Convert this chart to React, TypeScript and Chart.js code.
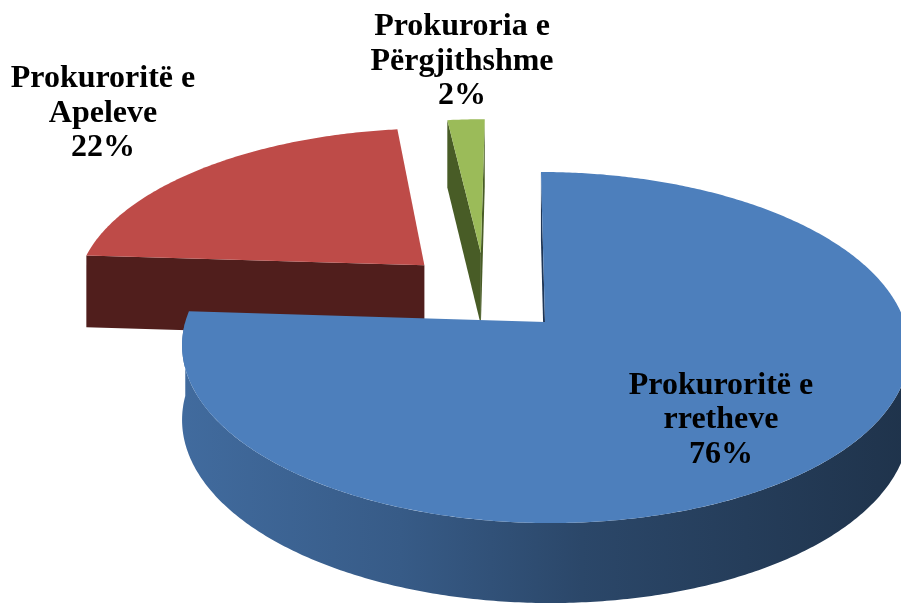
import React, { useEffect, useRef } from "react";
import { Chart, registerables } from "chart.js";

Chart.register(...registerables);

// ---- data ----
const categories = ["Prokuroritë e rretheve", "Prokuroritë e Apeleve", "Prokuroria e Përgjithshme"];
const values = [76, 22, 2];

// ---- styles ----
const topColors = ["#4D7FBC", "#BE4B48", "#9BBB59"];
const faceColors = ["#1F3656", "#501E1C", "#485C26"];
const RADIUS = 200; // chart-space radius (normalised away by the projection)
const EXPLODE = 0.246; // explosion, as a fraction of the radius
const FONT = 'bold 32px "Liberation Serif", "Times New Roman", serif';
const LINE_H = 34.5;
// label block anchors (centre x, middle-line baseline), one per slice
const LABEL_POS: [number, number][] = [
  [721, 428],
  [103, 121.5],
  [462, 69.5],
];

// perspective camera for the 3-D look
const CAM = { A: 513.2, S: 350.6, Xcam: 0.08, a: 0.1416, yc: 292, T: 163.2, D: 73 };

function proj(X: number, Z: number, bottom: boolean): [number, number] {
  const w = 1 + CAM.a * Z;
  const x = CAM.A + (CAM.S * (X - CAM.Xcam)) / w;
  const y = CAM.yc - (CAM.T * Z) / w + (bottom ? CAM.D / Math.sqrt(w) : 0);
  return [x, y];
}

function shade(hex: string, f: number) {
  const n = parseInt(hex.slice(1), 16);
  const r = Math.round(((n >> 16) & 255) * f);
  const g = Math.round(((n >> 8) & 255) * f);
  const b = Math.round((n & 255) * f);
  return `rgb(${r},${g},${b})`;
}

function area(pts: [number, number][]) {
  let s = 0;
  for (let k = 0; k < pts.length; k++) {
    const p = pts[k], q = pts[(k + 1) % pts.length];
    s += p[0] * q[1] - q[0] * p[1];
  }
  return s;
}

function splitName(name: string) {
  const w = name.split(" ");
  return [w.slice(0, 2).join(" "), w.slice(2).join(" ")];
}

const pie3d = {
  id: "pie3d",
  beforeDatasetsDraw(chart: any) {
    const meta = chart.getDatasetMeta(0);
    const ctx: CanvasRenderingContext2D = chart.ctx;
    const slices = meta.data.map((arc: any, i: number) => {
      const p = arc.getProps(["x", "y", "startAngle", "endAngle", "outerRadius"], true);
      const off = ((arc.options.offset || 0) / 4) / p.outerRadius;
      const m = (p.startAngle + p.endAngle) / 2;
      return { i, s: p.startAngle, e: p.endAngle, cX: off * Math.cos(m), cZ: -off * Math.sin(m) };
    });
    const rim = (sl: any, th: number, b: boolean) => proj(sl.cX + Math.cos(th), sl.cZ - Math.sin(th), b);
    const tip = (sl: any, b: boolean) => proj(sl.cX, sl.cZ, b);

    type Face = { key: number; draw: () => void };
    const faces: Face[] = [];

    slices.forEach((sl: any) => {
      const radial = (th: number, isStart: boolean) => {
        const pts = [tip(sl, false), rim(sl, th, false), rim(sl, th, true), tip(sl, true)];
        const a = area(pts);
        const visible = isStart ? a < -1 : a > 1;
        if (!visible) return;
        faces.push({
          key: sl.cZ - Math.sin(th) / 2,
          draw: () => {
            ctx.beginPath();
            pts.forEach((q, k) => (k ? ctx.lineTo(q[0], q[1]) : ctx.moveTo(q[0], q[1])));
            ctx.closePath();
            ctx.fillStyle = faceColors[sl.i];
            ctx.fill();
          },
        });
      };
      radial(sl.s, true);
      radial(sl.e, false);

      // outer wall, front-facing part (sin θ > 0)
      for (const base of [0, 2 * Math.PI]) {
        const t1 = Math.max(sl.s, base);
        const t2 = Math.min(sl.e, base + Math.PI);
        if (t2 - t1 > 1e-4) {
          faces.push({
            key: sl.cZ - 1,
            draw: () => {
              const n = Math.max(8, Math.ceil((t2 - t1) / 0.01));
              const topPts: [number, number][] = [];
              const botPts: [number, number][] = [];
              for (let k = 0; k <= n; k++) {
                const th = t1 + ((t2 - t1) * k) / n;
                topPts.push(rim(sl, th, false));
                botPts.push(rim(sl, th, true));
              }
              const xs = topPts.map((q) => q[0]);
              const xmin = Math.min(...xs), xmax = Math.max(...xs);
              const g = ctx.createLinearGradient(xmin, 0, xmax, 0);
              const c = topColors[sl.i];
              g.addColorStop(0, shade(c, 0.84));
              g.addColorStop(0.3, shade(c, 0.72));
              g.addColorStop(0.55, shade(c, 0.56));
              g.addColorStop(1, shade(c, 0.4));
              ctx.beginPath();
              topPts.forEach((q, k) => (k ? ctx.lineTo(q[0], q[1]) : ctx.moveTo(q[0], q[1])));
              for (let k = botPts.length - 1; k >= 0; k--) ctx.lineTo(botPts[k][0], botPts[k][1]);
              ctx.closePath();
              ctx.fillStyle = g;
              ctx.fill();
            },
          });
        }
      }
    });

    ctx.save();
    faces.sort((a, b) => b.key - a.key).forEach((f) => f.draw());

    // top faces
    slices.forEach((sl: any) => {
      const n = Math.max(6, Math.ceil((sl.e - sl.s) / 0.01));
      ctx.beginPath();
      const t0 = tip(sl, false);
      ctx.moveTo(t0[0], t0[1]);
      for (let k = 0; k <= n; k++) {
        const q = rim(sl, sl.s + ((sl.e - sl.s) * k) / n, false);
        ctx.lineTo(q[0], q[1]);
      }
      ctx.closePath();
      ctx.fillStyle = topColors[sl.i];
      ctx.fill();
    });
    ctx.restore();
    return false;
  },
  afterDraw(chart: any) {
    const ctx: CanvasRenderingContext2D = chart.ctx;
    const data: number[] = chart.data.datasets[0].data;
    const total = data.reduce((a, b) => a + b, 0);
    ctx.save();
    ctx.font = FONT;
    ctx.fillStyle = "#000";
    ctx.textAlign = "center";
    ctx.textBaseline = "alphabetic";
    (chart.data.labels as string[]).forEach((name, i) => {
      const lines = [...splitName(name), Math.round((data[i] / total) * 100) + "%"];
      const [cx, mid] = LABEL_POS[i];
      lines.forEach((t, k) => ctx.fillText(t, cx, mid + (k - 1) * LINE_H));
    });
    ctx.restore();
  },
};

export default function App() {
  const ref = useRef<HTMLCanvasElement | null>(null);
  useEffect(() => {
    document.body.style.margin = "0";
    const canvas = ref.current!;
    const chart = new Chart(canvas, {
      type: "pie",
      data: {
        labels: categories,
        datasets: [
          {
            data: values,
            backgroundColor: topColors,
            borderWidth: 0,
            radius: RADIUS,
            offset: values.map(() => EXPLODE * 4 * RADIUS),
          } as any,
        ],
      },
      options: {
        responsive: false,
        animation: false,
        layout: { padding: 0 },
        plugins: { legend: { display: false }, tooltip: { enabled: false } },
      },
      plugins: [pie3d as any],
    });
    return () => chart.destroy();
  }, []);
  return (
    <div style={{ width: 901, height: 605, background: "#fff" }}>
      <canvas ref={ref} width={901} height={605} style={{ display: "block", width: 901, height: 605 }} />
    </div>
  );
}
